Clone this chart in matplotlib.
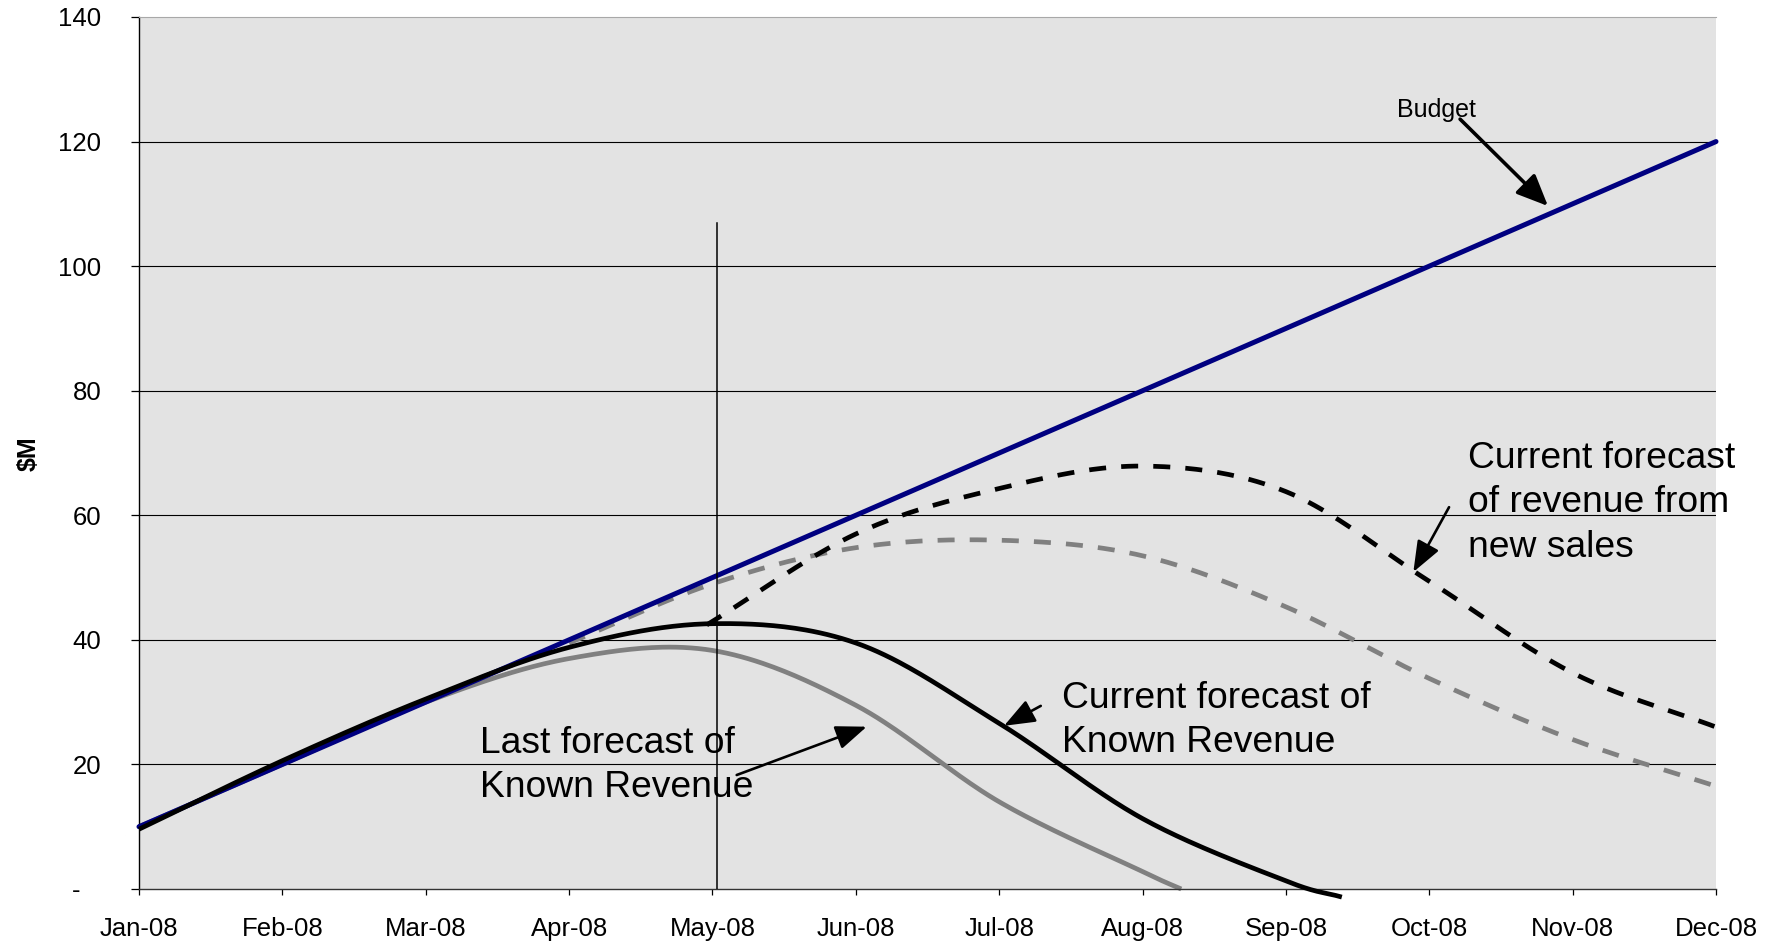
import numpy as np
import matplotlib
matplotlib.use("Agg")
import matplotlib.pyplot as plt

plt.rcParams['font.family'] = ['Liberation Sans', 'DejaVu Sans']

# ---- data (x = month index, 0 = Jan-08) ----
months = ["Jan-08", "Feb-08", "Mar-08", "Apr-08", "May-08", "Jun-08",
          "Jul-08", "Aug-08", "Sep-08", "Oct-08", "Nov-08", "Dec-08"]
y_ticks = [0, 20, 40, 60, 80, 100, 120, 140]
y_tick_labels = ["-   ", "20", "40", "60", "80", "100", "120", "140"]

budget_x = list(range(12))
budget_y = [10, 20, 30, 40, 50, 60, 70, 80, 90, 100, 110, 120]

cur_known_x = [0, 1, 2, 3, 4, 5, 6, 7, 8, 8.39]
cur_known_y = [9.6, 20.6, 30.5, 38.8, 42.6, 39.5, 26.6, 11.3, 1.3, -1.3]

last_known_x = [0, 1, 2, 3, 4, 5, 6, 7, 7.27]
last_known_y = [10, 20, 30, 37.0, 38.3, 29.5, 14.0, 2.8, 0.0]

cur_new_x = [3.96, 5, 6, 7, 8, 9, 10, 11]
cur_new_y = [42.4, 57.0, 64.3, 67.9, 63.8, 49.4, 34.7, 26.0]

last_new_x = [3, 4, 5, 6, 7, 8, 9, 10, 11]
last_new_y = [39.5, 49.0, 54.8, 56.0, 53.5, 45.3, 33.8, 24.0, 16.5]

today_x = 4.03
today_top = 107


def smooth(xs, ys, steps=40):
    """Catmull-Rom curve through the given points (smoothed line)."""
    p = np.column_stack([xs, ys]).astype(float)
    p = np.vstack([2 * p[0] - p[1], p, 2 * p[-1] - p[-2]])
    out = []
    t = np.linspace(0, 1, steps, endpoint=False)[:, None]
    for i in range(1, len(p) - 2):
        p0, p1, p2, p3 = p[i - 1], p[i], p[i + 1], p[i + 2]
        m1 = (p2 - p0) / 2
        m2 = (p3 - p1) / 2
        h00 = 2 * t**3 - 3 * t**2 + 1
        h10 = t**3 - 2 * t**2 + t
        h01 = -2 * t**3 + 3 * t**2
        h11 = t**3 - t**2
        out.append(h00 * p1 + h10 * m1 + h01 * p2 + h11 * m2)
    out.append(p[-2][None, :])
    c = np.vstack(out)
    return c[:, 0], c[:, 1]


fig = plt.figure(figsize=(17.68, 9.42), dpi=100)
ax = fig.add_axes([139 / 1768, 1 - 889 / 942, (1716 - 139) / 1768, (889 - 17) / 942])
ax.set_facecolor('#e3e3e3')
ax.set_xlim(0, 11)
ax.set_ylim(0, 140)

for v in y_ticks[1:-1]:
    ax.axhline(v, color='black', lw=0.8, zorder=1)

lw = 3.4
dash = (3.6, 3.2)

x, y = smooth(last_known_x, last_known_y)
ax.plot(x, y, color='#808080', lw=lw, solid_capstyle='butt', zorder=2, clip_on=False)
x, y = smooth(last_new_x, last_new_y)
ax.plot(x, y, color='#808080', lw=lw, dashes=dash, dash_capstyle='butt', zorder=2)
ax.plot(budget_x, budget_y, color='#000080', lw=3.6, solid_capstyle='round', zorder=3, clip_on=False)
x, y = smooth(cur_known_x, cur_known_y)
ax.plot(x, y, color='black', lw=lw, solid_capstyle='butt', zorder=4, clip_on=False)
x, y = smooth(cur_new_x, cur_new_y)
ax.plot(x, y, color='black', lw=lw, dashes=dash, dash_capstyle='butt', zorder=4)

ax.plot([today_x, today_x], [0, today_top], color='black', lw=1.1, zorder=6)

# axes styling
ax.spines['right'].set_visible(False)
ax.spines['top'].set_color('#a8a8a8')
ax.spines['top'].set_linewidth(0.8)
ax.spines['left'].set_linewidth(1.0)
ax.spines['bottom'].set_linewidth(1.0)
ax.spines['bottom'].set_color('#333333')

ax.set_xticks(range(12))
ax.set_xticklabels(months)
ax.set_yticks(y_ticks)
ax.set_yticklabels(y_tick_labels)
ax.tick_params(axis='y', direction='out', length=6, width=0.9, pad=21, labelsize=18.5)
ax.tick_params(axis='x', direction='out', length=4.5, width=0.9, pad=16, labelsize=18.5)
fig.text(29 / 1768, 1 - 454 / 942, "$M", rotation=90, fontsize=18, fontweight='bold',
         ha='center', va='center')

# annotations
arrow_budget = dict(arrowstyle='-|>,head_length=0.8,head_width=0.35', color='black',
                    lw=2.6, shrinkA=0, shrinkB=0, mutation_scale=24)
ax.text(8.775, 125.1, "Budget", fontsize=18, ha='left', va='center', zorder=7)
ax.annotate("", xy=(9.828, 109.65), xytext=(9.215, 123.6), arrowprops=arrow_budget, zorder=7)

big = 26.8
ax.text(9.272, 71.9, "Current forecast\nof revenue from\nnew sales", fontsize=big,
        ha='left', va='top', linespacing=1.34, zorder=7)
ax.text(6.436, 33.4, "Current forecast of\nKnown Revenue", fontsize=big,
        ha='left', va='top', linespacing=1.34, zorder=7)
ax.text(2.379, 26.2, "Last forecast of\nKnown Revenue", fontsize=big,
        ha='left', va='top', linespacing=1.34, zorder=5)

arrow_kw = dict(arrowstyle='-|>,head_length=0.9,head_width=0.35', color='black',
                lw=1.9, shrinkA=0, shrinkB=0, mutation_scale=21)
ax.annotate("", xy=(8.889, 50.9), xytext=(9.138, 61.3), arrowprops=arrow_kw, zorder=7)
ax.annotate("", xy=(6.034, 26.2), xytext=(6.29, 29.4), arrowprops=arrow_kw, zorder=7)
ax.annotate("", xy=(5.076, 26.06), xytext=(4.169, 18.3), arrowprops=arrow_kw, zorder=7)

fig.savefig("out.png", dpi=100, facecolor='white')
